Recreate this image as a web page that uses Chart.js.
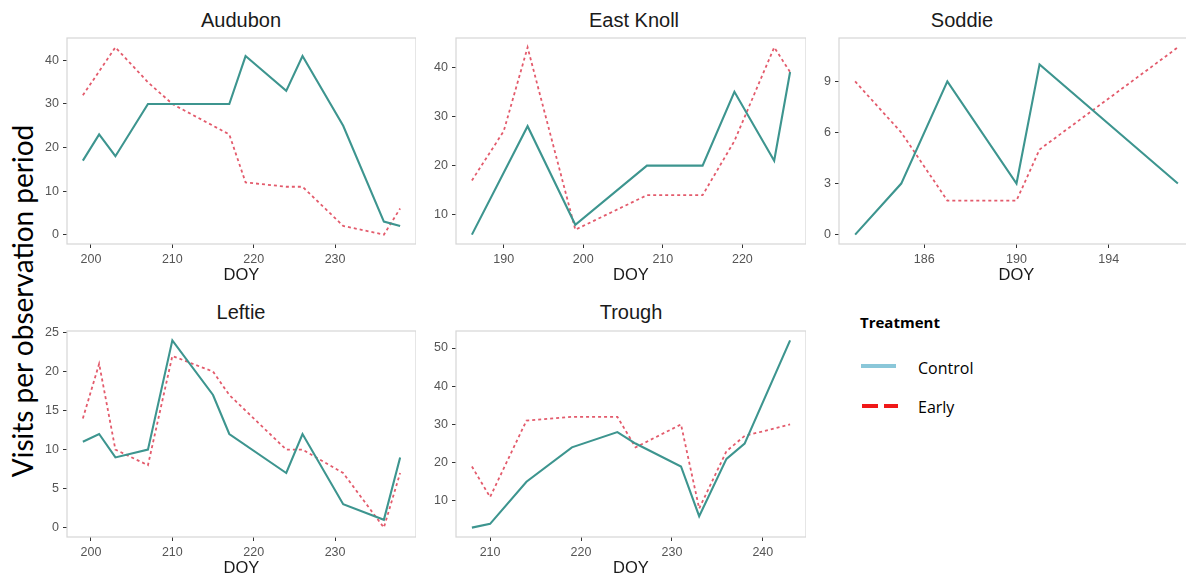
<!DOCTYPE html>
<html>
<head>
<meta charset="utf-8">
<script src="https://cdn.jsdelivr.net/npm/chart.js@4.4.0/dist/chart.umd.min.js"></script>
<style>
html,body{margin:0;padding:0;background:#fff;overflow:hidden;width:1186px;height:581px;position:relative;}
canvas{position:absolute;}
.ptitle{position:absolute;font-family:"Liberation Sans",Arial,sans-serif;font-size:20px;line-height:24px;color:#1a1a1a;white-space:nowrap;transform:translateX(-50%);}
#ytitle{position:absolute;left:22px;top:301px;transform:translate(-50%,-50%) rotate(-90deg);font-family:Lato,"Open Sans",sans-serif;font-size:28px;white-space:nowrap;color:#000;}
.leg{position:absolute;font-family:"Open Sans",Lato,sans-serif;color:#000;white-space:nowrap;}
.sw{position:absolute;height:4px;}
</style>
</head>
<body>
<div id="ytitle">Visits per observation period</div>
<div class="leg" style="left:860px;top:312px;font-size:15px;font-weight:bold;line-height:20px;">Treatment</div>
<div class="sw" style="left:861px;top:364px;width:35px;background:#8ac7d9;"></div>
<div class="leg" style="left:918px;top:357px;font-size:16px;line-height:22px;">Control</div>
<div class="sw" style="left:862px;top:404px;width:16px;background:#f01818;"></div>
<div class="sw" style="left:884px;top:404px;width:14px;background:#f01818;"></div>
<div class="leg" style="left:918px;top:396px;font-size:16px;line-height:22px;">Early</div>

<script>
// ---- data ----
const panelNames = ["Audubon", "East Knoll", "Soddie", "Leftie", "Trough"];
const seriesNames = ["Control", "Early"];

const audubonControlDoy = [199, 201, 203, 207, 217, 219, 224, 226, 231, 236, 238];
const audubonControlVisits = [17, 23, 18, 30, 30, 41, 33, 41, 25, 3, 2];
const audubonEarlyDoy = [199, 203, 207, 210, 217, 219, 224, 226, 231, 236, 238];
const audubonEarlyVisits = [32, 43, 35, 30, 23, 12, 11, 11, 2, 0, 6];

const eastKnollControlDoy = [186, 193, 199, 208, 215, 219, 224, 226];
const eastKnollControlVisits = [6, 28, 8, 20, 20, 35, 21, 39];
const eastKnollEarlyDoy = [186, 190, 193, 199, 208, 215, 219, 224, 226];
const eastKnollEarlyVisits = [17, 27, 44, 7, 14, 14, 25, 44, 39];

const soddieControlDoy = [183, 185, 187, 190, 191, 197];
const soddieControlVisits = [0, 3, 9, 3, 10, 3];
const soddieEarlyDoy = [183, 185, 187, 190, 191, 197];
const soddieEarlyVisits = [9, 6, 2, 2, 5, 11];

const leftieControlDoy = [199, 201, 203, 207, 210, 215, 217, 224, 226, 231, 236, 238];
const leftieControlVisits = [11, 12, 9, 10, 24, 17, 12, 7, 12, 3, 1, 9];
const leftieEarlyDoy = [199, 201, 203, 207, 210, 215, 217, 224, 226, 231, 236, 238];
const leftieEarlyVisits = [14, 21, 10, 8, 22, 20, 17, 10, 10, 7, 0, 7];

const troughControlDoy = [208, 210, 214, 219, 224, 226, 231, 233, 236, 238, 243];
const troughControlVisits = [3, 4, 15, 24, 28, 25, 19, 6, 21, 25, 52];
const troughEarlyDoy = [208, 210, 214, 219, 224, 226, 231, 233, 236, 238, 243];
const troughEarlyVisits = [19, 11, 31, 32, 32, 24, 30, 8, 23, 27, 30];

// tick labels
const audubonXTicks = [200, 210, 220, 230];
const audubonYTicks = [0, 10, 20, 30, 40];
const eastKnollXTicks = [190, 200, 210, 220];
const eastKnollYTicks = [10, 20, 30, 40];
const soddieXTicks = [186, 190, 194];
const soddieYTicks = [0, 3, 6, 9];
const leftieXTicks = [200, 210, 220, 230];
const leftieYTicks = [0, 5, 10, 15, 20, 25];
const troughXTicks = [210, 220, 230, 240];
const troughYTicks = [10, 20, 30, 40, 50];

const xAxisTitle = "DOY";

// ---- drawing ----
Chart.defaults.font.family = "'Liberation Sans', Arial, sans-serif";
Chart.defaults.animation = false;

function pts(xs, ys) { return xs.map((x, i) => ({x: x, y: ys[i]})); }
// ggplot-like 5% expansion of data range
function expandRange(arrs) {
  const all = [].concat(...arrs);
  const mn = Math.min(...all), mx = Math.max(...all), e = (mx - mn) * 0.05;
  return [mn - e, mx + e];
}

const framePlugin = {
  id: 'frame',
  afterDatasetsDraw(chart) {
    const {ctx, chartArea: a} = chart;
    ctx.save();
    ctx.strokeStyle = '#d6d6d6';
    ctx.lineWidth = 1.2;
    ctx.strokeRect(a.left, a.top, a.right - a.left, a.bottom - a.top);
    ctx.restore();
  }
};

const Y_AXIS_W = 45, X_AXIS_H = 47, TOP_PAD = 38;

function makePanel(name, plotLeft, plotRight, canvasTop, titleX, titleY, cx, cy, ex, ey, xTicks, yTicks) {
  const t = document.createElement('div');
  t.className = 'ptitle';
  t.textContent = name;
  t.style.left = titleX + 'px';
  t.style.top = (titleY - 12) + 'px';
  document.body.appendChild(t);

  const cv = document.createElement('canvas');
  const left = plotLeft - Y_AXIS_W;
  const w = plotRight - left;
  const h = 291;
  cv.width = w; cv.height = h;
  cv.style.left = left + 'px';
  cv.style.top = canvasTop + 'px';
  cv.style.width = w + 'px';
  cv.style.height = h + 'px';
  document.body.appendChild(cv);

  const xr = expandRange([cx, ex]);
  const yr = expandRange([cy, ey]);

  new Chart(cv, {
    type: 'line',
    data: {
      datasets: [
        {label: seriesNames[0], data: pts(cx, cy), borderColor: '#3d958f', borderWidth: 2.1, pointRadius: 0, tension: 0},
        {label: seriesNames[1], data: pts(ex, ey), borderColor: '#e35b6c', borderWidth: 1.8, borderDash: [3, 3], pointRadius: 0, tension: 0}
      ]
    },
    options: {
      responsive: false,
      devicePixelRatio: 1,
      events: [],
      layout: {padding: {top: TOP_PAD, left: 0, right: 0, bottom: 0}},
      plugins: {legend: {display: false}, tooltip: {enabled: false}, title: {display: false}},
      scales: {
        x: {
          type: 'linear', min: xr[0], max: xr[1],
          afterBuildTicks: s => { s.ticks = xTicks.map(v => ({value: v})); },
          afterFit: s => { s.height = X_AXIS_H; },
          grid: {drawOnChartArea: false, drawTicks: true, tickLength: 4, tickColor: '#333', lineWidth: 1},
          border: {display: false},
          ticks: {padding: 4, color: '#555', font: {size: 12.5}, maxRotation: 0, autoSkip: false},
          title: {display: true, text: xAxisTitle, color: '#1a1a1a', font: {size: 16.5}, padding: {top: 0, bottom: 6}}
        },
        y: {
          type: 'linear', min: yr[0], max: yr[1],
          afterBuildTicks: s => { s.ticks = yTicks.map(v => ({value: v})); },
          afterFit: s => { s.width = Y_AXIS_W; },
          grid: {drawOnChartArea: false, drawTicks: true, tickLength: 4, tickColor: '#333', lineWidth: 1},
          border: {display: false},
          ticks: {padding: 4, color: '#555', font: {size: 12.5}, autoSkip: false}
        }
      }
    },
    plugins: [framePlugin]
  });
}

makePanel(panelNames[0], 67, 416, 0, 241, 20, audubonControlDoy, audubonControlVisits, audubonEarlyDoy, audubonEarlyVisits, audubonXTicks, audubonYTicks);
makePanel(panelNames[1], 456, 806, 0, 634, 20, eastKnollControlDoy, eastKnollControlVisits, eastKnollEarlyDoy, eastKnollEarlyVisits, eastKnollXTicks, eastKnollYTicks);
makePanel(panelNames[2], 839, 1194, 0, 962, 20, soddieControlDoy, soddieControlVisits, soddieEarlyDoy, soddieEarlyVisits, soddieXTicks, soddieYTicks);
makePanel(panelNames[3], 67, 416, 293, 241, 312, leftieControlDoy, leftieControlVisits, leftieEarlyDoy, leftieEarlyVisits, leftieXTicks, leftieYTicks);
makePanel(panelNames[4], 456, 806, 293, 631, 312, troughControlDoy, troughControlVisits, troughEarlyDoy, troughEarlyVisits, troughXTicks, troughYTicks);
</script>
</body>
</html>
